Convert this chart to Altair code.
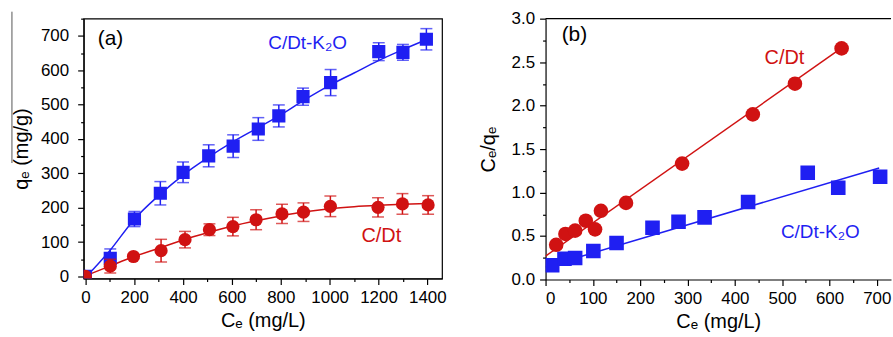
import altair as alt
import pandas as pd

# ---------------- Panel (a): adsorption isotherms ----------------
a_k2o_x = [0, 102, 201, 307, 400, 505, 605, 708, 792, 891, 1004, 1201, 1300, 1396]
a_k2o_y = [0, 53, 167, 242, 303, 351, 379, 429, 467, 523, 564, 654, 652, 690]
a_k2o_err = [0, 27, 22, 34, 30, 32, 33, 33, 32, 25, 38, 26, 23, 31]

a_dt_x = [0, 102, 197, 310, 408, 508, 604, 699, 805, 893, 1003, 1198, 1298, 1403]
a_dt_y = [0, 30, 58, 75, 107, 136, 145, 165, 182, 187, 204, 201, 211, 208]
a_dt_err = [0, 20, 6, 33, 24, 17, 27, 29, 28, 27, 30, 28, 30, 27]

# fitted curves
a_k2o_fit_x = [5, 100, 200, 300, 400, 500, 600, 700, 800, 900, 1000, 1100, 1200, 1300, 1400]
a_k2o_fit_y = [0, 75, 166, 235, 295, 345, 390, 430, 470, 515, 556, 592, 628, 660, 690]
a_dt_fit_x = [5, 100, 200, 300, 400, 500, 600, 700, 800, 900, 1000, 1100, 1200, 1300, 1400]
a_dt_fit_y = [3, 30, 58, 82, 106, 127, 146, 162, 176, 188, 197, 203, 207, 210, 212]

# ---------------- Panel (b): linearised (Ce/qe vs Ce) ----------------
b_dt_x = [22.5, 42, 62.5, 85, 104.6, 117, 170, 288.6, 438, 527, 625.6]
b_dt_y = [0.399, 0.524, 0.562, 0.676, 0.577, 0.79, 0.881, 1.333, 1.899, 2.252, 2.658]
b_k2o_x = [14, 40, 62.5, 101, 150, 226, 281, 336, 428, 554, 618.5, 707]
b_k2o_y = [0.163, 0.239, 0.247, 0.327, 0.42, 0.596, 0.665, 0.714, 0.892, 1.227, 1.056, 1.181]
b_dt_fit_x = [0, 625]
b_dt_fit_y = [0.27, 2.66]
b_k2o_fit_x = [0, 705]
b_k2o_fit_y = [0.144, 1.283]

a_x_ticks = list(range(0, 1401, 100))
a_y_ticks = list(range(0, 751, 50))
b_x_ticks = list(range(0, 701, 50))
b_y_ticks = [i * 0.25 for i in range(13)]

BLUE = "#1f1ff2"
RED = "#d01212"
FONT = "Liberation Sans"

WA, HA = 360, 261
WB, HB = 347, 262


def tick_size(test):
    return {"condition": {"test": test, "value": 6}, "value": 3}


ax_a_x = alt.Axis(values=a_x_ticks, title="Cₑ (mg/L)", format="d",
                  labelExpr="datum.value % 200 === 0 ? datum.label : ''",
                  tickSize=tick_size("datum.value % 200 === 0"),
                  labelPadding=5, titlePadding=5, labelOverlap=False)
ax_a_y = alt.Axis(values=a_y_ticks, title="qₑ (mg/g)", format="d",
                  labelExpr="datum.value % 100 === 0 ? datum.label : ''",
                  tickSize=tick_size("datum.value % 100 === 0"),
                  labelPadding=9, titlePadding=9, labelOverlap=False)
sx_a = alt.Scale(domain=[-7, 1460], nice=False, zero=False)
sy_a = alt.Scale(domain=[-6, 750], nice=False, zero=False)

ax_b_x = alt.Axis(values=b_x_ticks, title="Cₑ (mg/L)", format="d",
                  labelExpr="datum.value % 100 === 0 ? datum.label : ''",
                  tickSize=tick_size("datum.value % 100 === 0"),
                  labelPadding=5, titlePadding=5, labelOverlap=False)
ax_b_y = alt.Axis(values=b_y_ticks, title="Cₑ/qₑ", format=".1f",
                  labelExpr="abs(datum.value*2 - round(datum.value*2)) < 0.001 ? datum.label : ''",
                  tickSize=tick_size("abs(datum.value*2 - round(datum.value*2)) < 0.001"),
                  labelPadding=5, titlePadding=13, labelOverlap=False)
sx_b = alt.Scale(domain=[0, 730], nice=False, zero=False)
sy_b = alt.Scale(domain=[0, 3.0], nice=False, zero=False)


def X(field, scale, axis):
    return alt.X(f"{field}:Q", scale=scale, axis=axis)


def Y(field, scale, axis):
    return alt.Y(f"{field}:Q", scale=scale, axis=axis)


def err_layers(xs, ys, es, color, sx, sy, axx, axy):
    df = pd.DataFrame({"x": xs, "y": ys, "e": es})
    df = df[df.e > 0].copy()
    df["lo"] = df.y - df.e
    df["hi"] = df.y + df.e
    base = alt.Chart(df)
    bar = base.mark_rule(color=color, strokeWidth=1.5).encode(
        x=X("x", sx, axx), y=Y("lo", sy, axy), y2="hi:Q")
    cap_lo = base.mark_tick(color=color, orient="horizontal", size=12, thickness=1.5).encode(
        x=X("x", sx, axx), y=Y("lo", sy, axy))
    cap_hi = base.mark_tick(color=color, orient="horizontal", size=12, thickness=1.5).encode(
        x=X("x", sx, axx), y=Y("hi", sy, axy))
    return [bar, cap_lo, cap_hi]


def line_layer(xs, ys, color, sx, sy, axx, axy):
    df = pd.DataFrame({"x": xs, "y": ys})
    return alt.Chart(df).mark_line(color=color, strokeWidth=1.5, interpolate="monotone", clip=True).encode(
        x=X("x", sx, axx), y=Y("y", sy, axy))


def point_layer(xs, ys, color, shape, size, sx, sy, axx, axy):
    df = pd.DataFrame({"x": xs, "y": ys})
    return alt.Chart(df).mark_point(shape=shape, filled=True, opacity=1, color=color,
                                    size=size, clip=True).encode(
        x=X("x", sx, axx), y=Y("y", sy, axy))


def label(text, color, px, py, size):
    return alt.Chart(pd.DataFrame({"t": [text]})).mark_text(
        font=FONT, fontSize=size, color=color, align="center", baseline="middle").encode(
        text="t:N", x=alt.value(px), y=alt.value(py))


# ---- panel (a)
layers_a = []
layers_a.append(line_layer(a_k2o_fit_x, a_k2o_fit_y, BLUE, sx_a, sy_a, ax_a_x, ax_a_y))
layers_a.append(line_layer(a_dt_fit_x, a_dt_fit_y, RED, sx_a, sy_a, ax_a_x, ax_a_y))
layers_a += err_layers(a_k2o_x, a_k2o_y, a_k2o_err, BLUE, sx_a, sy_a, ax_a_x, ax_a_y)
layers_a.append(point_layer(a_k2o_x, a_k2o_y, BLUE, "square", 175, sx_a, sy_a, ax_a_x, ax_a_y))
layers_a += err_layers(a_dt_x, a_dt_y, a_dt_err, RED, sx_a, sy_a, ax_a_x, ax_a_y)
layers_a.append(point_layer(a_dt_x, a_dt_y, RED, "circle", 175, sx_a, sy_a, ax_a_x, ax_a_y))
layers_a.append(label("(a)", "black", 27, 20, 21))
layers_a.append(label("C/Dt-K₂O", BLUE, 225, 24, 19))
layers_a.append(label("C/Dt", RED, 299, 218, 20))
# stray vertical stroke at the far left of the original figure
layers_a.append(alt.Chart(pd.DataFrame({"t": [0]})).mark_rule(color="#555555", strokeWidth=1).encode(
    x=alt.value(-72), y=alt.value(-7), y2=alt.value(145)))

panel_a = alt.layer(*layers_a).properties(width=WA, height=HA)

# ---- panel (b)
layers_b = []
layers_b.append(line_layer(b_dt_fit_x, b_dt_fit_y, RED, sx_b, sy_b, ax_b_x, ax_b_y))
layers_b.append(line_layer(b_k2o_fit_x, b_k2o_fit_y, BLUE, sx_b, sy_b, ax_b_x, ax_b_y))
layers_b.append(point_layer(b_k2o_x, b_k2o_y, BLUE, "square", 215, sx_b, sy_b, ax_b_x, ax_b_y))
layers_b.append(point_layer(b_dt_x, b_dt_y, RED, "circle", 215, sx_b, sy_b, ax_b_x, ax_b_y))
layers_b.append(label("(b)", "black", 29, 16, 21))
layers_b.append(label("C/Dt", RED, 240, 40, 20))
layers_b.append(label("C/Dt-K₂O", BLUE, 276, 214, 19))
layers_b.append(alt.Chart(pd.DataFrame({"t": [0]})).mark_rule(color="black", strokeWidth=1.2).encode(
    x=alt.value(0), x2=alt.value(WB), y=alt.value(0)))

panel_b = alt.layer(*layers_b).properties(
    width=WB, height=HB, view=alt.ViewBackground(stroke="transparent"))

chart = alt.hconcat(panel_a, panel_b, spacing=30).properties(
    padding={"left": 10, "top": 8, "right": 0, "bottom": 0},
    background="white"
).configure_view(stroke="black", strokeWidth=1.2).configure_axis(
    labelFont=FONT, labelFontSize=17, labelColor="black",
    titleFont=FONT, titleFontSize=20, titleFontWeight="normal", titleColor="black",
    domainColor="black", domainWidth=1.2, tickColor="black", tickWidth=1.2, grid=False
)

chart.save("out.html", embed_options={"renderer": "svg", "actions": False})
